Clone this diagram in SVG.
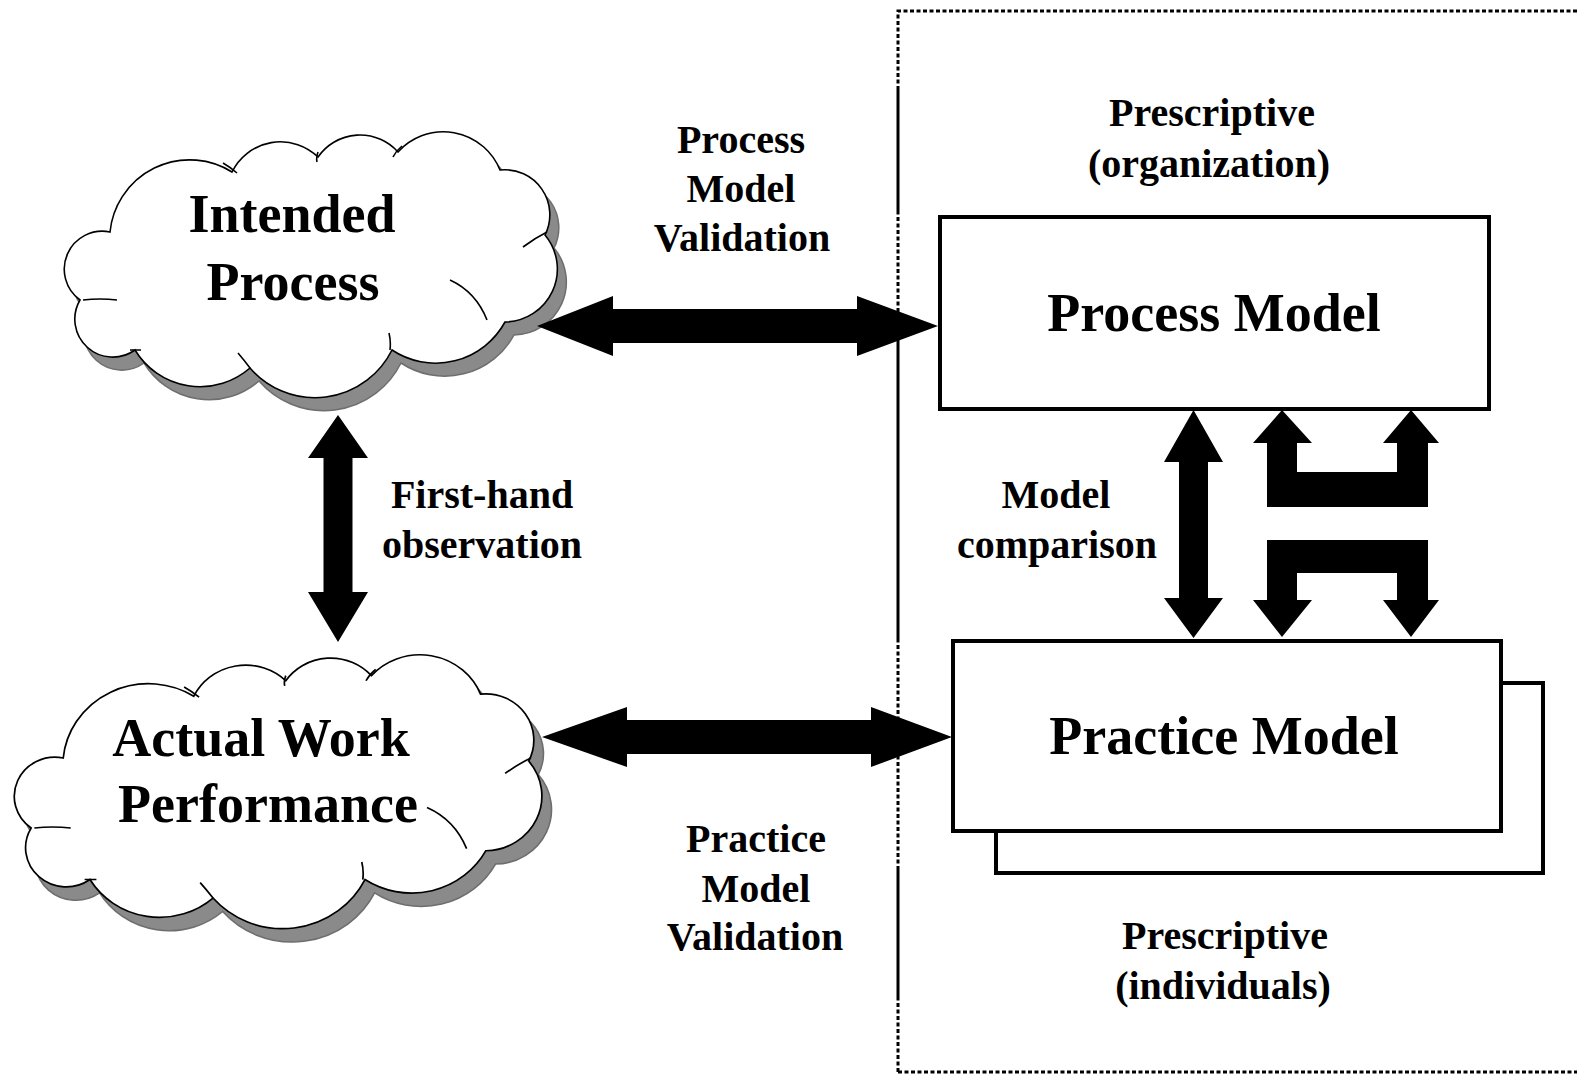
<svg xmlns="http://www.w3.org/2000/svg" xmlns:xlink="http://www.w3.org/1999/xlink" width="1577" height="1076" viewBox="0 0 1577 1076">
  <style>
    .big { font-family: "Liberation Serif", "Times New Roman", serif; font-weight: bold; font-size: 54px; fill: #000; text-anchor: middle; }
    .lbl { font-family: "Liberation Serif", "Times New Roman", serif; font-weight: bold; font-size: 40px; fill: #000; text-anchor: middle; }
    .box { fill: #fff; stroke: #000; stroke-width: 4; }
    .arrow { fill: #000; stroke: none; }
    .border { fill: none; stroke: #000; stroke-width: 3; }
    .dots { stroke-dasharray: 4 2.5; }
    .cloud-fill { fill: #fff; stroke: #000; stroke-width: 1.6; }
    .cloud-shadow { fill: #8a8a8a; stroke: #6e6e6e; stroke-width: 1.5; }
    .cloud-inner { fill: none; stroke: #000; stroke-width: 1.6; }
  </style>
  <defs>
    <!-- cloud outline made of circular bumps -->
    <path id="cloudPath" d="M110,232 A80,80 0 0 1 232,172 A54,54 0 0 1 318,157 A51,51 0 0 1 398,152 A61,61 0 0 1 500,170 A45,45 0 0 1 545,235 A53,53 0 0 1 505,322 A79,79 0 0 1 392,350 A86,86 0 0 1 250,368 A76,76 0 0 1 135,350 A38,38 0 0 1 80,300 A38,38 0 0 1 110,232 Z"/>
    <g id="cloud">
      <use xlink:href="#cloudPath" class="cloud-shadow" transform="translate(9,13)"/>
      <use xlink:href="#cloudPath" class="cloud-fill"/>
      <path class="cloud-inner" d="M223,163 Q230,167 237,173 M317,162 Q316,157 318,152 M393,157 Q396,151 402,146 M523,247 Q535,238 547,232 M450,280 Q476,292 487,320 M390,350 Q391,341 389,333 M250,368 Q244,360 238,353 M130,350 L141,350 M83,300 Q100,298 117,300"/>
    </g>
  </defs>

  <!-- dashed frame around the model side -->
  <g id="frame">
    <path class="border dots" d="M898,1072 V1000 M898,870 V640 M898,312 V212 M898,90 V11 H1577"/>
    <path class="border" d="M898,1000 V870 M898,640 V312 M898,212 V90"/>
    <path class="border dots" d="M898,1072 H1577"/>
  </g>

  <!-- clouds -->
  <g id="intended-process">
    <use xlink:href="#cloud"/>
    <text class="big" x="292" y="232">Intended</text>
    <text class="big" x="293" y="300">Process</text>
  </g>
  <g id="actual-work-performance">
    <use xlink:href="#cloud" transform="translate(14,655) scale(1.07,1.03) translate(-64,-132)"/>
    <text class="big" x="261" y="756">Actual Work</text>
    <text class="big" x="268" y="822">Performance</text>
  </g>

  <!-- model boxes -->
  <g id="process-model">
    <rect class="box" x="940" y="217" width="549" height="192"/>
    <text class="big" x="1214" y="331">Process Model</text>
  </g>
  <g id="practice-model">
    <rect class="box" x="996" y="683" width="547" height="190"/>
    <rect class="box" x="953" y="641" width="548" height="190"/>
    <text class="big" x="1224" y="754">Practice Model</text>
  </g>

  <!-- connectors -->
  <g id="connectors">
    <polygon class="arrow" points="537,326 613,296 613,309 857,309 857,296 938,326 857,356 857,343 613,343 613,356"/>
    <polygon class="arrow" points="542,737 627,707 627,720 871,720 871,707 952,737 871,767 871,754 627,754 627,767"/>
    <polygon class="arrow" points="338,415 368,458 352.5,458 352.5,592 368,592 338,642 308,592 323.5,592 323.5,458 308,458"/>
    <polygon class="arrow" points="1193.5,410 1223,462 1208,462 1208,598 1223,598 1193.5,638 1164,598 1179,598 1179,462 1164,462"/>
    <polygon class="arrow" points="1282,410 1312,443 1297,443 1297,472 1397,472 1397,443 1383,443 1411,410 1439,443 1428,443 1428,507 1267,507 1267,443 1253,443"/>
    <polygon class="arrow" points="1267,540 1428,540 1428,600 1439,600 1411,637 1383,600 1397,600 1397,573 1297,573 1297,600 1312,600 1282,637 1253,600 1267,600"/>
  </g>

  <!-- connector and region labels -->
  <g id="labels">
    <text class="lbl" x="741" y="153">Process</text>
    <text class="lbl" x="741" y="202">Model</text>
    <text class="lbl" x="742" y="251">Validation</text>

    <text class="lbl" x="482" y="508">First-hand</text>
    <text class="lbl" x="482" y="558">observation</text>

    <text class="lbl" x="1056" y="508">Model</text>
    <text class="lbl" x="1057" y="558">comparison</text>

    <text class="lbl" x="756" y="852">Practice</text>
    <text class="lbl" x="756" y="902">Model</text>
    <text class="lbl" x="755" y="950">Validation</text>

    <text class="lbl" x="1212" y="126">Prescriptive</text>
    <text class="lbl" x="1209" y="177">(organization)</text>

    <text class="lbl" x="1225" y="949">Prescriptive</text>
    <text class="lbl" x="1223" y="999">(individuals)</text>
  </g>
</svg>
